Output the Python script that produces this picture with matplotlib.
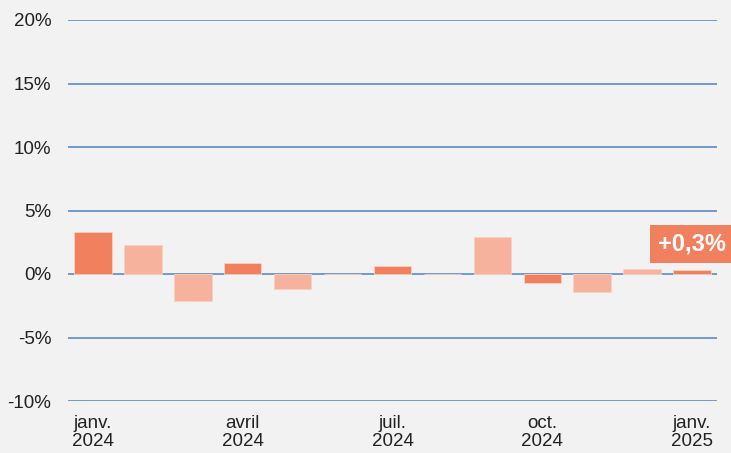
import matplotlib.pyplot as plt
import numpy as np

plt.rcParams['font.family'] = ['Liberation Sans', 'DejaVu Sans']

# monthly change, janv. 2024 -> janv. 2025
months = ['janv.\n2024', 'févr.', 'mars', 'avril\n2024', 'mai', 'juin',
          'juil.\n2024', 'août', 'sept.', 'oct.\n2024', 'nov.', 'déc.', 'janv.\n2025']
values = [3.3, 2.3, -2.1, 0.9, -1.2, 0.0, 0.6, 0.0, 2.9, -0.7, -1.4, 0.4, 0.3]
quarter = [True, False, False, True, False, False, True, False, False, True, False, False, True]
yticks = [-10, -5, 0, 5, 10, 15, 20]
last_label = '+0,3%'

dark = '#F0805E'
light = '#F6B29C'
bg = '#F2F2F2'
grid = '#4F81BD'

fig = plt.figure(figsize=(7.31, 4.53), dpi=100, facecolor=bg)
ax = fig.add_axes([68/731, 1-401/453, (717-68)/731, (401-20)/453], facecolor=bg)

x = np.arange(len(values))
colors = [dark if q else light for q in quarter]
ax.bar(x, values, width=0.75, color=colors, edgecolor='#F8D0C4', linewidth=0.6, zorder=3)

for t in yticks:
    ax.axhline(t, color=grid, linewidth=1.1, zorder=1)

ax.set_xlim(-0.5, len(values) - 0.5)
ax.set_ylim(-10, 20)
ax.set_yticks(yticks)
ax.set_yticklabels([f'{t}%' for t in yticks], fontsize=13.5, color='#222222')
ax.set_xticks([i for i in x if quarter[i]])
ax.set_xticklabels([months[i] for i in x if quarter[i]], fontsize=13.5,
                   color='#222222', linespacing=1.1)
ax.tick_params(axis='y', length=0, pad=12)
ax.tick_params(axis='x', length=0, pad=10)
for s in ax.spines.values():
    s.set_visible(False)

ax.annotate(last_label, xy=(x[-1], values[-1]), xytext=(0, 19), textcoords='offset points',
            ha='center', va='center', fontsize=17, fontweight='bold', color='white',
            bbox=dict(boxstyle='square,pad=0.33', fc=dark, ec='none'),
            annotation_clip=False, zorder=5)

fig.savefig('out.png', dpi=100, facecolor=bg)
